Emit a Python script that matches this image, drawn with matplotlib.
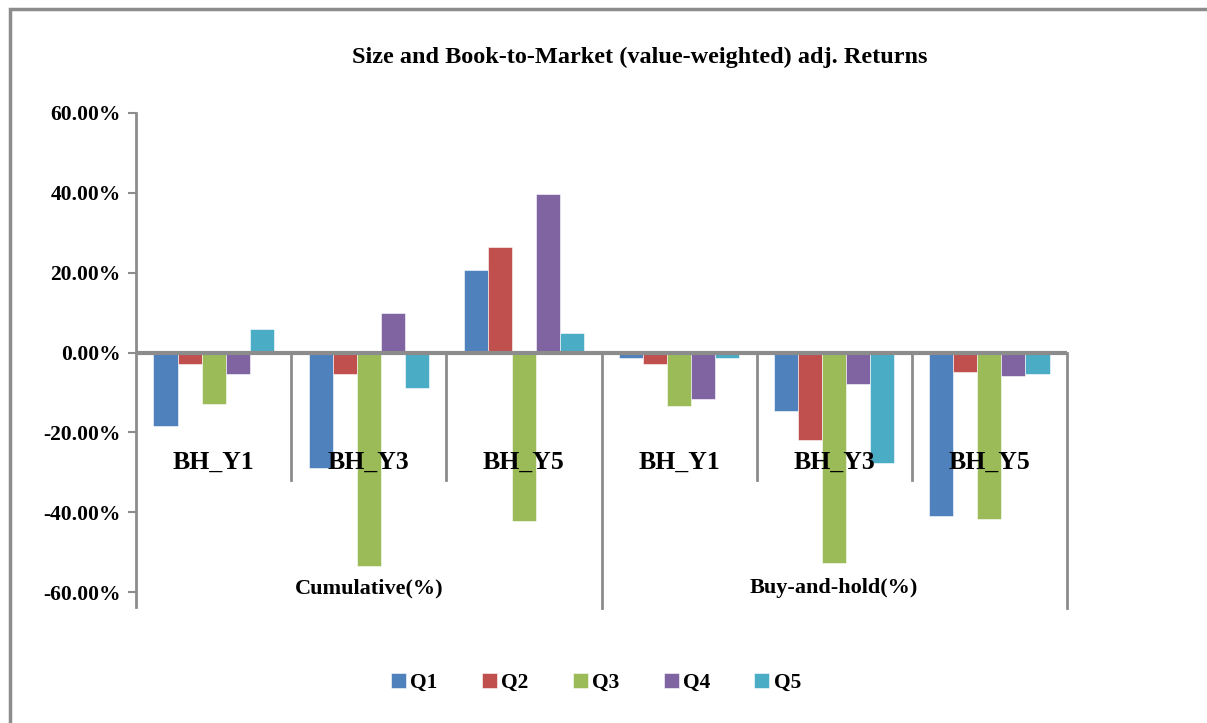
import matplotlib
matplotlib.use("Agg")
import matplotlib.pyplot as plt
from matplotlib.patches import Rectangle
import numpy as np

# Data: adjusted returns (%) by size / book-to-market quintile
periods = ["BH_Y1", "BH_Y3", "BH_Y5", "BH_Y1", "BH_Y3", "BH_Y5"]
groups = ["Cumulative(%)", "Buy-and-hold(%)"]
series = ["Q1", "Q2", "Q3", "Q4", "Q5"]
q1 = [-18.4, -28.9, 20.6, -1.4, -14.6, -40.9]
q2 = [-2.8, -5.3, 26.5, -2.8, -22.0, -4.9]
q3 = [-13.0, -53.4, -42.1, -13.3, -52.8, -41.6]
q4 = [-5.3, 9.8, 39.6, -11.7, -7.8, -5.9]
q5 = [5.8, -8.8, 4.9, -1.4, -27.8, -5.3]
yticks = [-60, -40, -20, 0, 20, 40, 60]

values = [q1, q2, q3, q4, q5]
colors = ["#4F81BD", "#C0504D", "#9BBB59", "#8064A2", "#4BACC6"]
grey = "#8C8C8C"
font = ["Liberation Serif", "DejaVu Serif"]

W, H = 1207, 723
fig = plt.figure(figsize=(W / 100, H / 100), dpi=100)
fig.patch.set_facecolor("white")

# chart-area frame (only top and left edges fall inside the image)
fig.add_artist(Rectangle((10 / W, -0.1), 1.2, (723 - 9) / H + 0.1,
                         transform=fig.transFigure, fill=False,
                         edgecolor=grey, linewidth=2.5))

left, right, top, bottom = 136, 1067, 113, 592
ax = fig.add_axes([left / W, 1 - bottom / H, (right - left) / W, (bottom - top) / H])
ax.set_facecolor("none")

x = np.arange(len(periods))
bw = 0.155
for i, (name, vals, c) in enumerate(zip(series, values, colors)):
    ax.bar(x + (i - 2) * bw, vals, width=bw, color=c, label=name,
           edgecolor="white", linewidth=0.4, zorder=2)

ax.set_xlim(-0.5, len(periods) - 0.5)
ax.set_ylim(-60, 60)
for s in ax.spines.values():
    s.set_visible(False)

ax.set_yticks(yticks)
ax.set_yticklabels([f"{v:.2f}%" for v in yticks], fontfamily=font,
                   fontweight="bold", fontsize=15.5)
ax.tick_params(axis="y", length=6, width=1.5, color=grey, pad=5)
ax.set_xticks([])

# vertical value axis, extended down through the group-label band
ax.axvline(-0.5, ymin=-0.032, ymax=1, color=grey, lw=2, clip_on=False, zorder=3)
# zero line
ax.axhline(0, color=grey, lw=3, zorder=3)

# separators between periods (short) and between groups (long)
for sx in [0.5, 1.5, 3.5, 4.5]:
    ax.plot([sx, sx], [0, -32], color=grey, lw=2, clip_on=False, zorder=1)
for sx in [2.5, 5.5]:
    ax.plot([sx, sx], [0, -64], color=grey, lw=2, clip_on=False, zorder=1)

# category labels
for xi, lab in zip(x, periods):
    ax.text(xi, -27.5, lab, ha="center", va="center", fontfamily=font,
            fontweight="bold", fontsize=18.5, zorder=4)
for gi, g in enumerate(groups):
    ax.text(gi * 3 + 1, -59.0, g, ha="center", va="center", fontfamily=font,
            fontweight="bold", fontsize=16, zorder=4)

fig.text(640 / W, 1 - 57 / H, "Size and Book-to-Market (value-weighted) adj. Returns",
         ha="center", va="center", fontfamily=font, fontweight="bold", fontsize=17.5)

leg = fig.legend(loc="center", bbox_to_anchor=(596 / W, 1 - 683 / H), ncol=5,
                 frameon=False, handlelength=0.7, handleheight=0.7,
                 handletextpad=0.2, columnspacing=2.05,
                 prop={"family": font, "weight": "bold", "size": 15.5})

fig.savefig("out.png", dpi=100, facecolor="white")
